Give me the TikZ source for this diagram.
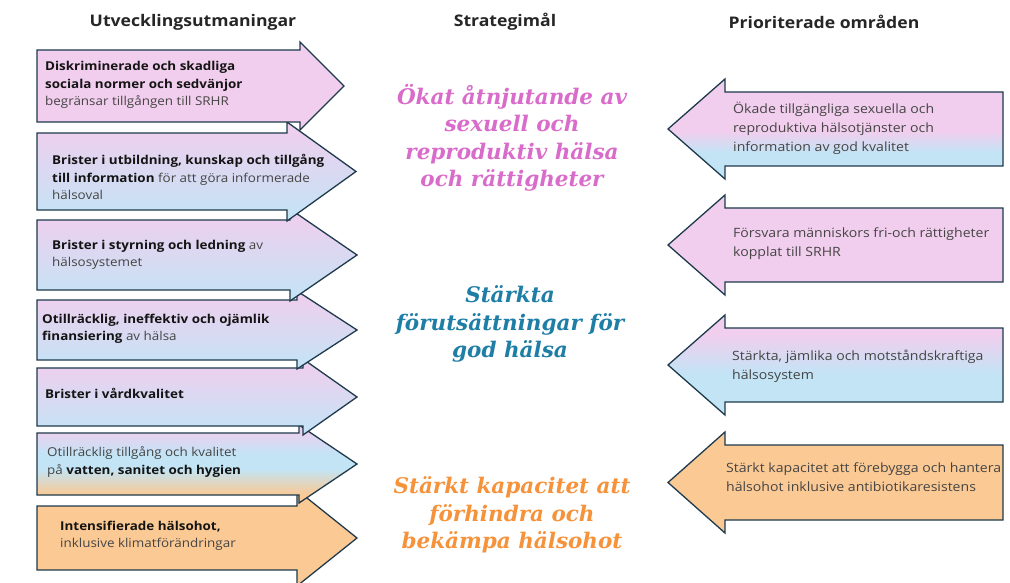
\documentclass[tikz,border=0pt]{standalone}
\usepackage{fontspec}
\setmainfont{Open Sans}[FakeStretch=1.1]
\newfontfamily\goalfont{DejaVu Serif}
\usetikzlibrary{calc,positioning}
\definecolor{pinkfill}{HTML}{F2CEEE}
\definecolor{bluefill}{HTML}{C2E4F5}
\definecolor{orangefill}{HTML}{FBC994}
\definecolor{edgecol}{HTML}{1E3A4C}
\definecolor{goalpink}{HTML}{D96CCB}
\definecolor{goalblue}{HTML}{1F7EA6}
\definecolor{goalorange}{HTML}{F5923A}
\definecolor{textgray}{HTML}{454545}
\pgfdeclareverticalshading{pinkblue}{100bp}{color(0bp)=(bluefill); color(25bp)=(bluefill); color(75bp)=(pinkfill); color(100bp)=(pinkfill)}
\pgfdeclareverticalshading{pinkbluelate}{100bp}{color(0bp)=(bluefill); color(38bp)=(bluefill); color(49bp)=(pinkfill); color(100bp)=(pinkfill)}
\pgfdeclareverticalshading{pinkbluemid}{100bp}{color(0bp)=(bluefill); color(45bp)=(bluefill); color(66bp)=(pinkfill); color(100bp)=(pinkfill)}
\pgfdeclareverticalshading{pinkblueorange}{100bp}{color(0bp)=(orangefill); color(30bp)=(orangefill); color(47bp)=(bluefill); color(56bp)=(bluefill); color(73bp)=(pinkfill); color(100bp)=(pinkfill)}
\newcommand{\hl}[1]{\textcolor{black!92}{\textbf{#1}}}
% arrow to the right: style, top, bottom, notch, tip, overhang
\newcommand{\goright}[6]{\draw[#1] (37,#2) -- (#4,#2) -- (#4,#2-#6) -- (#5,{(#2+#3)/2}) -- (#4,#3+#6) -- (#4,#3) -- (37,#3) -- cycle;}
% arrow to the left: style, top, bottom
\newcommand{\goleft}[3]{\draw[#1] (1003,#2) -- (725,#2) -- (725,#2-13) -- (668,{(#2+#3)/2}) -- (725,#3+13) -- (725,#3) -- (1003,#3) -- cycle;}

\begin{document}
\begin{tikzpicture}[x=1pt,y=-1pt,line join=miter]
\tikzstyle{arrowbox}=[draw=edgecol,line width=1.3pt]
\tikzstyle{header}=[font=\fontsize{16}{19}\selectfont\bfseries,text=black!85,inner sep=0pt]
\tikzstyle{challenge}=[anchor=west,align=left,inner sep=0pt,text=textgray,font=\fontsize{12.2}{17.5}\selectfont]
\tikzstyle{area}=[anchor=west,align=left,inner sep=0pt,text=textgray,font=\fontsize{12.8}{19}\selectfont]
\tikzstyle{goal}=[align=center,inner sep=0pt,font=\goalfont\bfseries\itshape\fontsize{21.5}{27.5}\selectfont]

\fill[white] (0,0) rectangle (1010,583);
\useasboundingbox (0,0) rectangle (1010,583);

% headers
\node[header] (challenges) at (193,22) {Utvecklingsutmaningar};
\node[header] (goals)      at (505,22) {Strategimål};
\node[header] (areas)      at (824,22) {Prioriterade områden};

% left arrows, drawn from the bottom up
\goright{arrowbox,fill=orangefill}{506}{570}{297}{357}{16}
\goright{arrowbox,shading=pinkblueorange}{433}{495}{299}{357}{8}
\goright{arrowbox,shading=pinkblue}{368}{426}{303}{357}{9}
\goright{arrowbox,shading=pinkblue}{300}{360}{297}{357}{9}
\goright{arrowbox,shading=pinkblue}{220}{290}{290}{357}{11}
\goright{arrowbox,shading=pinkblue}{133}{210}{287}{356}{11}
\goright{arrowbox,fill=pinkfill}{50}{122}{300}{344}{8}

\node[challenge] (norms) at (45,85) {\hl{Diskriminerade och skadliga}\\\hl{sociala normer och sedvänjor}\\begränsar tillgången till SRHR};
\node[challenge] (education) at (52,177) {\hl{Brister i utbildning, kunskap och tillgång}\\\hl{till information} för att göra informerade\\hälsoval};
\node[challenge] (governance) at (52,255) {\hl{Brister i styrning och ledning} av\\hälsosystemet};
\node[challenge] (financing) at (42,329) {\hl{Otillräcklig, ineffektiv och ojämlik}\\\hl{finansiering} av hälsa};
\node[challenge] (quality) at (45,393) {\hl{Brister i vårdkvalitet}};
\node[challenge] (water) at (47,462) {Otillräcklig tillgång och kvalitet\\på \hl{vatten, sanitet och hygien}};
\node[challenge] (threats) at (60,536) {\hl{Intensifierade hälsohot,}\\inklusive klimatförändringar};

% strategic goals
\node[goal,text=goalpink]   (srhr)     at (512,138) {Ökat åtnjutande av\\sexuell och\\reproduktiv hälsa\\och rättigheter};
\node[goal,text=goalblue]   (health)   at (510,324) {Stärkta\\förutsättningar för\\god hälsa};
\node[goal,text=goalorange] (capacity) at (512,515) {Stärkt kapacitet att\\förhindra och\\bekämpa hälsohot};

% right arrows
\goleft{arrowbox,shading=pinkbluelate}{92}{166}
\goleft{arrowbox,fill=pinkfill}{208}{282}
\goleft{arrowbox,shading=pinkbluemid}{328}{402}
\goleft{arrowbox,fill=orangefill}{445}{520}

\node[area] (services) at (733,128) {Ökade tillgängliga sexuella och\\reproduktiva hälsotjänster och\\information av god kvalitet};
\node[area] (rights) at (733,244) {Försvara människors fri-och rättigheter\\kopplat till SRHR};
\node[area] (systems) at (732,366) {Stärkta, jämlika och motståndskraftiga\\hälsosystem};
\node[area] (prevent) at (726,477) {Stärkt kapacitet att förebygga och hantera\\hälsohot inklusive antibiotikaresistens};
\end{tikzpicture}
\end{document}
